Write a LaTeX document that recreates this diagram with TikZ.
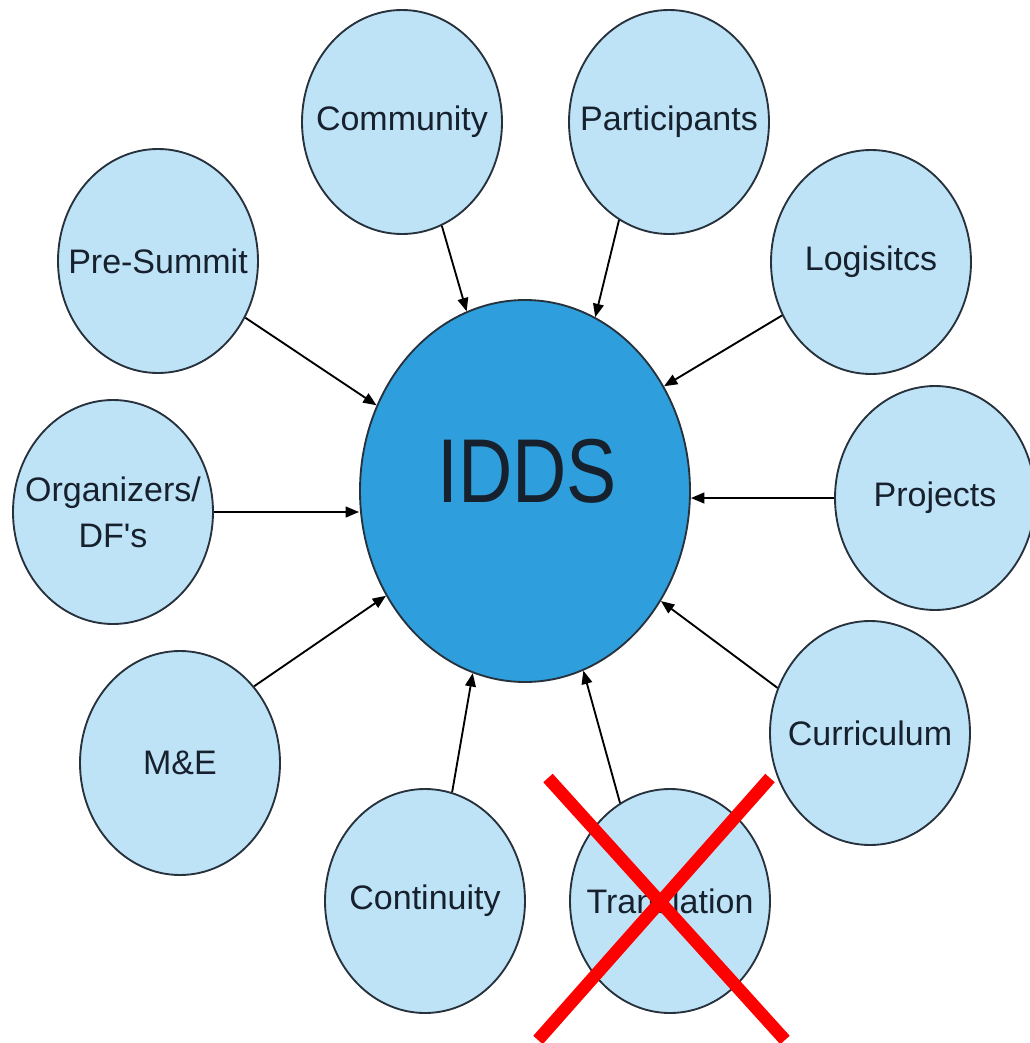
\documentclass[tikz,border=0pt]{standalone}
\usepackage{fontspec}
\setmainfont{Liberation Sans}
\usetikzlibrary{shapes.geometric,arrows.meta}
\definecolor{lightb}{HTML}{BEE2F6}
\definecolor{midb}{HTML}{2E9FDC}
\definecolor{edgec}{HTML}{27323D}
\definecolor{txt}{HTML}{17212E}
\begin{document}
\begin{tikzpicture}[x=0.75pt,y=-0.75pt,
  sat/.style={ellipse, draw=edgec, line width=1.4pt, fill=lightb,
    minimum width=150pt, minimum height=168pt, inner sep=0pt},
  lbl/.style={text=txt, font=\fontsize{25.5}{34.5}\selectfont, align=center, inner sep=0pt},
  hub/.style={ellipse, draw=edgec, line width=1.4pt, fill=midb,
    minimum width=247.5pt, minimum height=286.5pt, inner sep=0pt},
  hubtext/.style={text=txt, font=\fontsize{68}{80}\selectfont, inner sep=0pt},
  link/.style={draw=black, line width=1.4pt, -{Triangle[length=10pt,width=8pt]}},
  cross/.style={draw=red, line width=9.5pt}]
\useasboundingbox (0,0) rectangle (1030,1043);
\fill[white] (0,0) rectangle (1030,1043);

\node[hub] (idds) at (525,491) {};
\node[hubtext] (iddst) at (527,471) {\scalebox{0.83}[1]{IDDS}};

\node[sat, label={[lbl]center:Community}] (comm) at (402,122) {};
\node[sat, label={[lbl]center:Participants}] (part) at (669,122) {};
\node[sat, label={[lbl]center:Pre-Summit}] (pre) at (158,261) {};
\node[sat, label={[lbl]center:Logisitcs}] (logi) at (871,262) {};
\node[sat, label={[lbl]center:{Organizers/\\DF\textquotesingle s}}] (org) at (113,512) {};
\node[sat, label={[lbl]center:Projects}] (proj) at (935,498) {};
\node[sat, label={[lbl]center:M\&E}] (me) at (180,763) {};
\node[sat, label={[lbl]center:Curriculum}] (cur) at (870,733) {};
\node[sat, label={[lbl]center:Continuity}] (cont) at (425,901) {};
\node[sat, label={[lbl]center:Translation}] (trans) at (670,901) {};

\draw[link] (comm.-69) -- (idds.108.7);
\draw[link] (part.-117.5) -- (idds.68.3);
\draw[link] (pre.-33.7) -- (idds.150.7);
\draw[link] (logi.-149) -- (idds.37.3);
\draw[link] (org.east) -- (org.east -| idds.west);
\draw[link] (proj.west) -- (proj.west -| idds.east);
\draw[link] (me.46) -- (idds.-143.3);
\draw[link] (cur.154) -- (idds.-39);
\draw[link] (cont.76.6) -- (idds.-106.9);
\draw[link] (trans.117.8) -- (idds.-72.5);

\draw[cross] (548,778) -- (785,1040);
\draw[cross] (770,778) -- (538,1040);
\end{tikzpicture}
\end{document}
